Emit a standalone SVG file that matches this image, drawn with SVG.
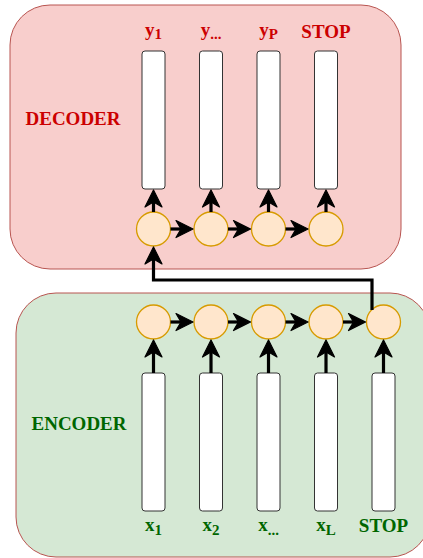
<svg xmlns="http://www.w3.org/2000/svg" width="423" height="558" viewBox="0 0 423 558">
  <style>
    .panel-dec { fill: #f8cecc; stroke: #b85450; stroke-width: 1; }
    .panel-enc { fill: #d5e8d4; stroke: #b85450; stroke-width: 1; }
    .bar { fill: #ffffff; stroke: #333333; stroke-width: 1; }
    .cell { fill: #ffe6cc; stroke: #d79b00; stroke-width: 1.3; }
    .wire { fill: none; stroke: #000000; stroke-width: 3.2; marker-end: url(#head); }
    .lbl { font-family: "Liberation Serif", "Times New Roman", serif; font-weight: bold; font-size: 19px; text-anchor: middle; }
    .dec { fill: #cc0000; }
    .enc { fill: #006600; }
    .sub { font-size: 15px; }
  </style>
  <defs>
    <marker id="head" markerUnits="userSpaceOnUse" markerWidth="20" markerHeight="20" refX="5" refY="9" orient="auto" overflow="visible">
      <path d="M0,0.5 L17,9 L0,17.5 L5,9 Z" fill="#000000" stroke="#000000" stroke-width="1.2" stroke-linejoin="round"/>
    </marker>
  </defs>

  <!-- decoder panel -->
  <g id="decoder">
    <rect class="panel-dec" x="10" y="5" width="391" height="264" rx="40" ry="40"/>
    <text class="lbl dec" x="73" y="125">DECODER</text>
  </g>

  <!-- encoder panel -->
  <g id="encoder">
    <rect class="panel-enc" x="16" y="293" width="414" height="264" rx="40" ry="40"/>
    <text class="lbl enc" x="79" y="430">ENCODER</text>
  </g>

  <!-- decoder outputs -->
  <g id="dec-out-1">
    <rect class="bar" x="142" y="51" width="23" height="138" rx="3"/>
    <text class="lbl dec" x="153.5" y="36">y<tspan class="sub" dy="3">1</tspan></text>
  </g>
  <g id="dec-out-2">
    <rect class="bar" x="199.5" y="51" width="23" height="138" rx="3"/>
    <text class="lbl dec" x="211" y="36">y<tspan class="sub" dy="3">...</tspan></text>
  </g>
  <g id="dec-out-3">
    <rect class="bar" x="257" y="51" width="23" height="138" rx="3"/>
    <text class="lbl dec" x="268.5" y="36">y<tspan class="sub" dy="3">P</tspan></text>
  </g>
  <g id="dec-out-4">
    <rect class="bar" x="314.5" y="51" width="23" height="138" rx="3"/>
    <text class="lbl dec" x="326" y="38">STOP</text>
  </g>

  <!-- decoder recurrent cells -->
  <g id="dec-cell-1"><circle class="cell" cx="153.5" cy="229" r="17"/></g>
  <g id="dec-cell-2"><circle class="cell" cx="211" cy="229" r="17"/></g>
  <g id="dec-cell-3"><circle class="cell" cx="268.5" cy="229" r="17"/></g>
  <g id="dec-cell-4"><circle class="cell" cx="326" cy="229" r="17"/></g>

  <!-- encoder recurrent cells -->
  <g id="enc-cell-1"><circle class="cell" cx="153.5" cy="322" r="17"/></g>
  <g id="enc-cell-2"><circle class="cell" cx="211" cy="322" r="17"/></g>
  <g id="enc-cell-3"><circle class="cell" cx="268.5" cy="322" r="17"/></g>
  <g id="enc-cell-4"><circle class="cell" cx="326" cy="322" r="17"/></g>
  <g id="enc-cell-5"><circle class="cell" cx="383.5" cy="322" r="17"/></g>

  <!-- encoder inputs -->
  <g id="enc-in-1">
    <rect class="bar" x="142" y="373" width="23" height="138" rx="3"/>
    <text class="lbl enc" x="153.5" y="531">x<tspan class="sub" dy="4">1</tspan></text>
  </g>
  <g id="enc-in-2">
    <rect class="bar" x="199.5" y="373" width="23" height="138" rx="3"/>
    <text class="lbl enc" x="211" y="531">x<tspan class="sub" dy="4">2</tspan></text>
  </g>
  <g id="enc-in-3">
    <rect class="bar" x="257" y="373" width="23" height="138" rx="3"/>
    <text class="lbl enc" x="268.5" y="531">x<tspan class="sub" dy="4">...</tspan></text>
  </g>
  <g id="enc-in-4">
    <rect class="bar" x="314.5" y="373" width="23" height="138" rx="3"/>
    <text class="lbl enc" x="326" y="531">x<tspan class="sub" dy="4">L</tspan></text>
  </g>
  <g id="enc-in-5">
    <rect class="bar" x="372" y="373" width="23" height="138" rx="3"/>
    <text class="lbl enc" x="383.5" y="532">STOP</text>
  </g>

  <!-- connectors -->
  <g id="connectors">
    <!-- decoder: cell to output -->
    <path class="wire" d="M153.5,212 V202"/>
    <path class="wire" d="M211,212 V202"/>
    <path class="wire" d="M268.5,212 V202"/>
    <path class="wire" d="M326,212 V202"/>
    <!-- decoder: cell to cell -->
    <path class="wire" d="M170.5,229 H181"/>
    <path class="wire" d="M228,229 H238.5"/>
    <path class="wire" d="M285.5,229 H296"/>
    <!-- encoder: input to cell -->
    <path class="wire" d="M153.5,373 V352"/>
    <path class="wire" d="M211,373 V352"/>
    <path class="wire" d="M268.5,373 V352"/>
    <path class="wire" d="M326,373 V352"/>
    <path class="wire" d="M383.5,373 V352"/>
    <!-- encoder: cell to cell -->
    <path class="wire" d="M170.5,322 H181"/>
    <path class="wire" d="M228,322 H238.5"/>
    <path class="wire" d="M285.5,322 H296"/>
    <path class="wire" d="M343,322 H353.5"/>
    <!-- final encoder state into first decoder cell -->
    <path class="wire" d="M372,310 V280 H153.5 V259"/>
  </g>
</svg>
